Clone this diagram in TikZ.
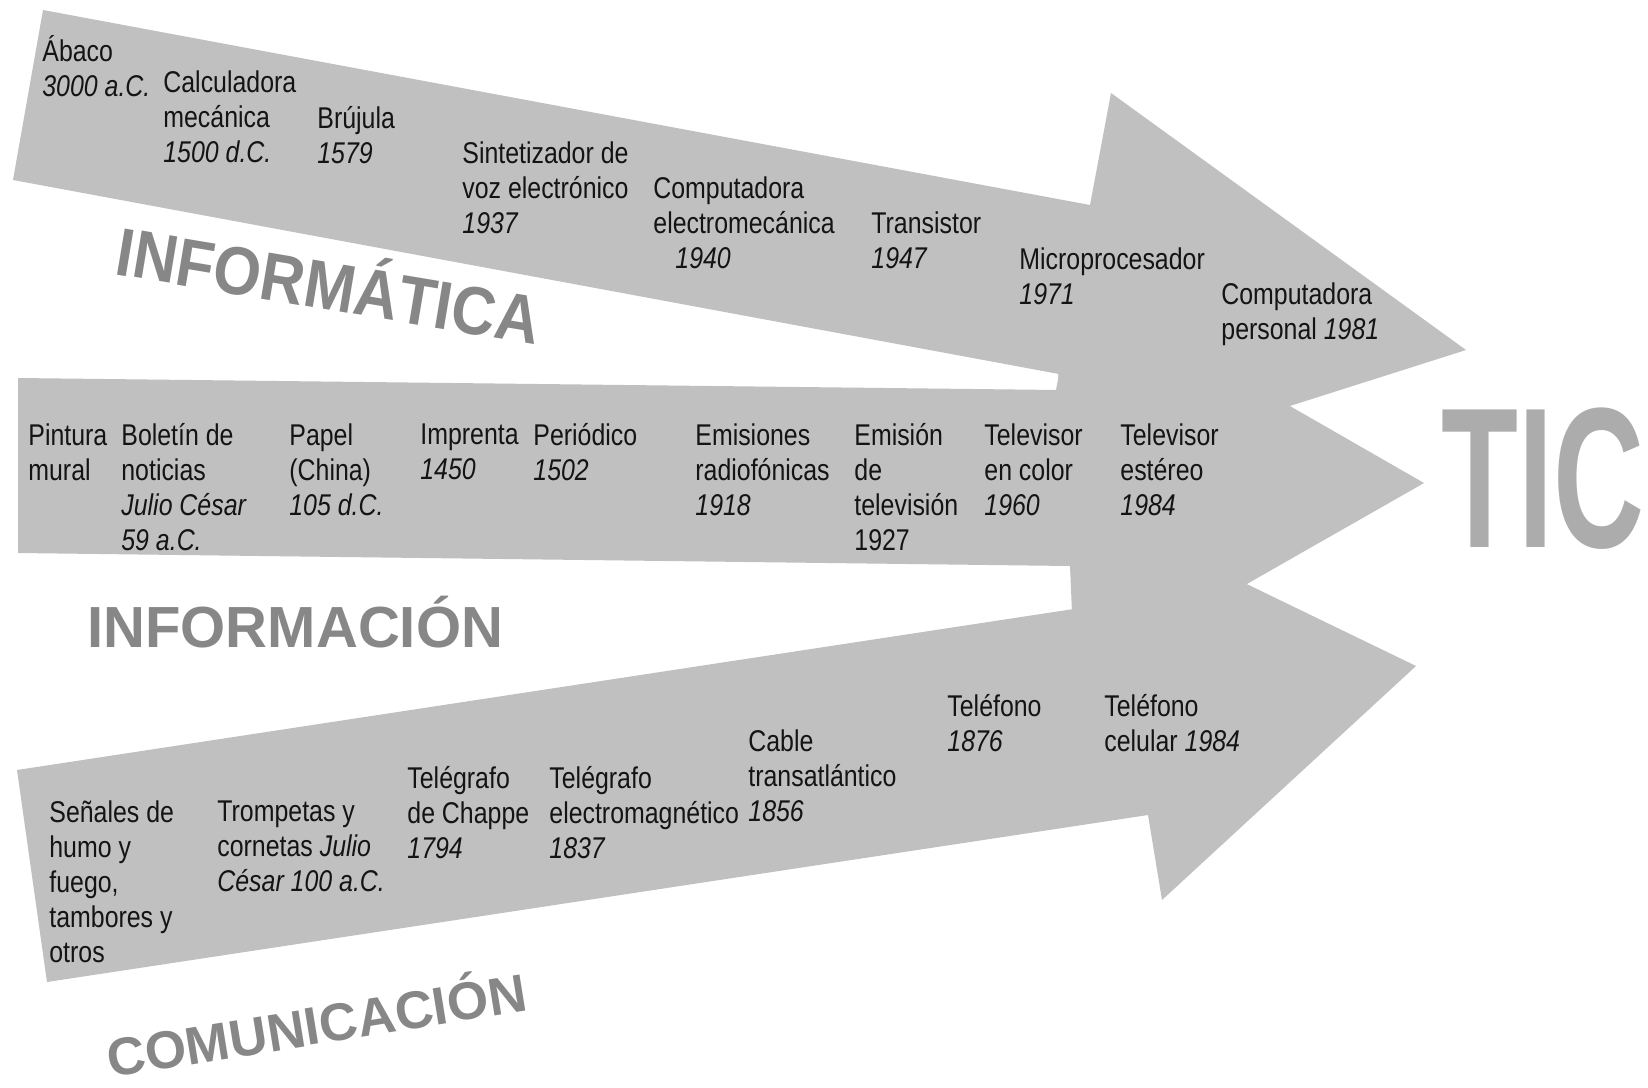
\documentclass[tikz,border=0pt]{standalone}
\usepackage{fontspec}
\setmainfont{Liberation Sans}[FakeStretch=0.83]
\newfontfamily\bigfont{Liberation Sans}
\newfontfamily\bigfontn{Liberation Sans}[FakeStretch=0.9]
\newfontfamily\ticfont{Liberation Sans}[FakeStretch=0.63]
\definecolor{arrowgray}{RGB}{192,192,192}
\definecolor{labelgray}{RGB}{135,135,135}
\definecolor{ticgray}{RGB}{172,172,172}
\definecolor{txt}{RGB}{20,20,20}
\begin{document}
\begin{tikzpicture}[x=0.5pt,y=-0.5pt,
  lbl/.style={anchor=north west,inner sep=0pt,align=left,text=txt,
    font=\fontsize{15}{17.5}\selectfont,
    execute at begin node={\rule{0pt}{14.5pt}}},
  band/.style={fill=arrowgray},
  title/.style={text=labelgray,inner sep=0pt,anchor=base west}]
\useasboundingbox (0,0) rectangle (1648,1087);
\fill[white] (0,0) rectangle (1648,1087);

% arrows
\fill[band] (43,10) -- (1090,205) -- (1111,93) -- (1466,350) -- (1038,486)
  -- (1059,374) -- (13,180) -- cycle;
\fill[band] (18,378) -- (1059,390) -- (1053,270) -- (1424,483) -- (1075,682)
  -- (1070,566) -- (18,553) -- cycle;
\fill[band] (17,770) -- (1113,603) -- (1098,512) -- (1416,666) -- (1162,900)
  -- (1148,815) -- (47,982) -- cycle;

% informatica
\node[lbl] (abaco) at (42,35) {Ábaco\\\textit{3000 a.C.}};
\node[lbl] (calc) at (163,70) {Calculadora\\mecánica\\\textit{1500 d.C.}};
\node[lbl] (brujula) at (317,106) {Brújula\\\textit{1579}};
\node[lbl] (sint) at (462,141) {Sintetizador de\\voz electrónico\\\textit{1937}};
\node[lbl] (compem) at (653,176) {Computadora\\electromecánica\\\hspace*{11pt}\textit{1940}};
\node[lbl] (trans) at (871,211) {Transistor\\\textit{1947}};
\node[lbl] (micro) at (1019,247) {Microprocesador\\\textit{1971}};
\node[lbl] (pc) at (1221,282) {Computadora\\personal \textit{1981}};

% informacion
\node[lbl] (pintura) at (28,423) {Pintura\\mural};
\node[lbl] (boletin) at (121,423) {Boletín de\\noticias\\\textit{Julio César}\\\textit{59 a.C.}};
\node[lbl] (papel) at (289,423) {Papel\\(China)\\\textit{105 d.C.}};
\node[lbl] (imprenta) at (420,423) {Imprenta\\\textit{1450}};
\node[lbl] (periodico) at (533,423) {Periódico\\\textit{1502}};
\node[lbl] (radio) at (695,423) {Emisiones\\radiofónicas\\\textit{1918}};
\node[lbl] (tv) at (854,423) {Emisión\\de\\televisión\\1927};
\node[lbl] (tvcolor) at (984,423) {Televisor\\en color\\\textit{1960}};
\node[lbl] (tvstereo) at (1120,423) {Televisor\\estéreo\\\textit{1984}};

% comunicacion
\node[lbl] (senales) at (49,800) {Señales de\\humo y\\fuego,\\tambores y\\otros};
\node[lbl] (trompetas) at (217,800) {Trompetas y\\cornetas \textit{Julio}\\\textit{César 100 a.C.}};
\node[lbl] (chappe) at (407,766) {Telégrafo\\de Chappe\\\textit{1794}};
\node[lbl] (electromag) at (549,766) {Telégrafo\\electromagnético\\\textit{1837}};
\node[lbl] (cable) at (748,729) {Cable\\transatlántico\\\textit{1856}};
\node[lbl] (telefono) at (947,694) {Teléfono\\\textit{1876}};
\node[lbl] (celular) at (1104,694) {Teléfono\\celular \textit{1984}};

% titles
\node[title,rotate=-9.5,font=\bigfontn\bfseries\fontsize{34}{40}\selectfont] (informatica) at (113,274) {INFORMÁTICA};
\node[title,font=\bigfont\bfseries\fontsize{29}{34}\selectfont] (informacion) at (87,647) {INFORMACIÓN};
\node[title,rotate=9.2,font=\bigfont\bfseries\fontsize{26.5}{31}\selectfont] (comunicacion) at (110,1078) {COMUNICACIÓN};
\node[anchor=base west,inner sep=0pt,text=ticgray,font=\ticfont\bfseries\fontsize{100}{100}\selectfont] (tic) at (1441,547) {TIC};
\end{tikzpicture}
\end{document}
